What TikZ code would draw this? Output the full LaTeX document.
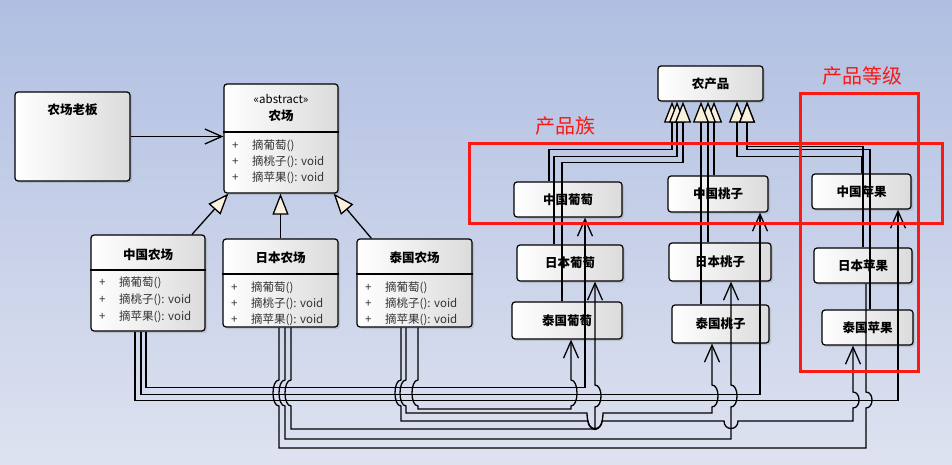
\documentclass[tikz,border=0pt]{standalone}
\usepackage{fontspec}
\setmainfont{Noto Sans CJK SC}
\usetikzlibrary{arrows.meta,shadows}
\definecolor{bgtop}{RGB}{176,191,225}
\definecolor{bgbot}{RGB}{222,226,240}
\definecolor{tri}{RGB}{250,240,222}
\definecolor{mark}{RGB}{250,25,20}
\tikzset{
  cls/.style={draw, line width=1.2pt, rounded corners=3pt, left color=white, right color=black!14,
    drop shadow={shadow xshift=2pt, shadow yshift=-2pt, opacity=0.25}},
  item/.style={cls, font=\fontsize{12.5}{14}\selectfont\bfseries},
  ttl/.style={font=\fontsize{12.5}{14}\selectfont\bfseries, inner sep=0pt},
  op/.style={font=\fontsize{11.5}{13}\selectfont, text=black!80, inner sep=0pt, anchor=west},
  gen/.style={line width=1.3pt, -{Triangle[length=21pt, width=16pt, fill=tri]}},
  dep/.style={line width=1.3pt, -{Straight Barb[length=17pt, width=15pt]}},
  lane/.style={line width=1.3pt},
  zone/.style={draw=mark, line width=3pt},
  tag/.style={text=mark, font=\fontsize{20}{22}\selectfont, inner sep=0pt}
}
% line jumps: going down bulging left, going up bulging right, going right dipping down
\newcommand\hopl[3]{-- (#1,#2-#3) .. controls (#1-8,#2-#3) and (#1-8,#2+#3) .. (#1,#2+#3)}
\newcommand\hopr[3]{-- (#1,#2+#3) .. controls (#1+8,#2+#3) and (#1+8,#2-#3) .. (#1,#2-#3)}
\newcommand\hopu[4]{-- (#1-#3,#2) .. controls (#1-#3,#2+#4) and (#1+#3,#2+#4) .. (#1+#3,#2)}
% operation rows of a farm class
\newcommand\ops[4]{%
  \foreach \t [count=\i] in {摘葡萄(), 摘桃子(): void, 摘苹果(): void}{
    \node[op] (#1-p\i) at (#2, {#3+(\i-1)*#4}) {+};
    \node[op] (#1-o\i) at (#2+20, {#3+(\i-1)*#4}) {\t};
  }}

\begin{document}
\begin{tikzpicture}[x=1pt, y=-1pt]
\shade[top color=bgtop, bottom color=bgbot] (0,0) rectangle (952,465);
\useasboundingbox (0,0) rectangle (952,465);

% farms
\node[cls, minimum width=115pt, minimum height=89pt] (boss) at (72.5,136.5) {};
\node[ttl] (boss-t) at (72.5,110) {农场老板};

\node[cls, minimum width=114pt, minimum height=109pt] (farm) at (281,138.5) {};
\node[font=\fontsize{11.5}{13}\selectfont, inner sep=0pt] (farm-s) at (281,99) {«abstract»};
\node[ttl] (farm-t) at (281,116) {农场};
\draw[line width=1.2pt] (farm.west |- 0,132) -- (farm.east |- 0,132);
\ops{farm}{232}{146}{16}

\node[cls, minimum width=114pt, minimum height=96pt] (cnF) at (148,283) {};
\node[ttl] (cnF-t) at (148,255) {中国农场};
\draw[line width=1.2pt] (cnF.west |- 0,270) -- (cnF.east |- 0,270);
\ops{cnF}{99}{283}{17}

\node[cls, minimum width=115pt, minimum height=88pt] (jpF) at (280.5,283) {};
\node[ttl] (jpF-t) at (280.5,258) {日本农场};
\draw[line width=1.2pt] (jpF.west |- 0,274) -- (jpF.east |- 0,274);
\ops{jpF}{231}{288}{16}

\node[cls, minimum width=115pt, minimum height=88pt] (thF) at (414.5,283) {};
\node[ttl] (thF-t) at (414.5,258) {泰国农场};
\draw[line width=1.2pt] (thF.west |- 0,274) -- (thF.east |- 0,274);
\ops{thF}{365}{288}{16}

% products
\node[item, minimum width=105pt, minimum height=35pt] (prod) at (710.5,83.5) {农产品};
\node[item, minimum width=108pt, minimum height=35pt] (cnGrape) at (568,199.5) {中国葡萄};
\node[item, minimum width=106pt, minimum height=36pt] (jpGrape) at (570,263) {日本葡萄};
\node[item, minimum width=110pt, minimum height=37pt] (thGrape) at (567,320.5) {泰国葡萄};
\node[item, minimum width=100pt, minimum height=36pt] (cnPeach) at (718,194) {中国桃子};
\node[item, minimum width=102pt, minimum height=38pt] (jpPeach) at (720,262) {日本桃子};
\node[item, minimum width=97pt, minimum height=38pt] (thPeach) at (720.5,324) {泰国桃子};
\node[item, minimum width=99pt, minimum height=35pt] (cnApple) at (861.5,191.5) {中国苹果};
\node[item, minimum width=98pt, minimum height=35pt] (jpApple) at (863,265.5) {日本苹果};
\node[item, minimum width=91pt, minimum height=35pt] (thApple) at (867.5,327.5) {泰国苹果};

% boss and farms
\draw[dep] (boss.east) -- (boss.east -| farm.west);
\draw[gen] ([xshift=44pt]cnF.north) -- ([xshift=5pt]farm.south west);
\draw[gen] (jpF.north) -- (jpF.north |- farm.south);
\draw[gen] ([xshift=15pt]thF.north west) -- ([xshift=-5pt]farm.south east);

% products extend 农产品
\draw[gen] ([xshift=-19pt]cnGrape.north) -- ++(0,-32) -| ([xshift=-38.5pt]prod.south);
\draw[gen] ([xshift=-16pt]jpGrape.north) -- ++(0,-88) -| ([xshift=-33.5pt]prod.south);
\draw[gen] ([xshift=-5pt]thGrape.north) -- ++(0,-139) -| ([xshift=-27.5pt]prod.south);
\draw[gen] ([xshift=-4pt]cnPeach.north) -- ([xshift=3.5pt]prod.south);
\draw[gen] ([xshift=-12pt]jpPeach.north) -- ([xshift=-2.5pt]prod.south);
\draw[gen] ([xshift=-19.5pt]thPeach.north) -- ([xshift=-9.5pt]prod.south);
\draw[gen] (cnApple.north) -- ++(0,-17) -| ([xshift=26.5pt]prod.south);
\draw[gen] (jpApple.north) -- ++(0,-101) -| ([xshift=36.5pt]prod.south);
\draw[gen] ([xshift=2.5pt]thApple.north) -- ++(0,-160) -| ([xshift=36.5pt]prod.south);

% 中国农场
\draw[dep] ([xshift=-2pt]cnF.south) -- ++(0,56) -| ([xshift=17pt]cnGrape.south);
\draw[dep] ([xshift=-7pt]cnF.south) -- ++(0,63) -| ([xshift=42pt]cnPeach.south);
\draw[dep] ([xshift=-13pt]cnF.south) -- ++(0,69) -| ([xshift=36.5pt]cnApple.south);
% 日本农场
\draw[dep] ([xshift=10.5pt]jpF.south) \hopl{291}{393}{13} -- (291,429) -- (595,429)
  \hopr{595}{396}{11} -- ([xshift=25pt]jpGrape.south);
\draw[dep] ([xshift=4.5pt]jpF.south) \hopl{285}{393}{13} -- (285,439) -- (731,439)
  \hopr{731}{396}{11} -- ([xshift=11pt]jpPeach.south);
\draw[lane] ([xshift=-1.5pt]jpF.south) \hopl{279}{393}{13} -- (279,448) -- (866,448)
  \hopr{866}{400}{8} -- ([xshift=3pt]jpApple.south);
% 泰国农场
\draw[dep] ([xshift=3.5pt]thF.south) \hopl{418}{393}{13} -- (418,409) -- (571,409)
  \hopr{571}{393}{13} -- ([xshift=4pt]thGrape.south);
\draw[dep] ([xshift=-8.5pt]thF.south) \hopl{406}{393}{13} -- (406,413) \hopu{595}{413}{8}{22}
  -- (712,413) \hopr{712}{396}{11} -- ([xshift=-8.5pt]thPeach.south);
\draw[dep] ([xshift=-13.5pt]thF.south) \hopl{401}{393}{13} -- (401,421) \hopu{595}{421}{7}{10}
  \hopu{731}{421}{7}{10} -- (853,421) \hopr{853}{400}{8} -- ([xshift=-14.5pt]thApple.south);

% product family and product level
\draw[zone] (469,144) rectangle (942,223);
\draw[zone] (800,94) rectangle (918,371);
\node[tag] (fam) at (565,126) {产品族};
\node[tag] (lvl) at (862,76) {产品等级};
\end{tikzpicture}
\end{document}
